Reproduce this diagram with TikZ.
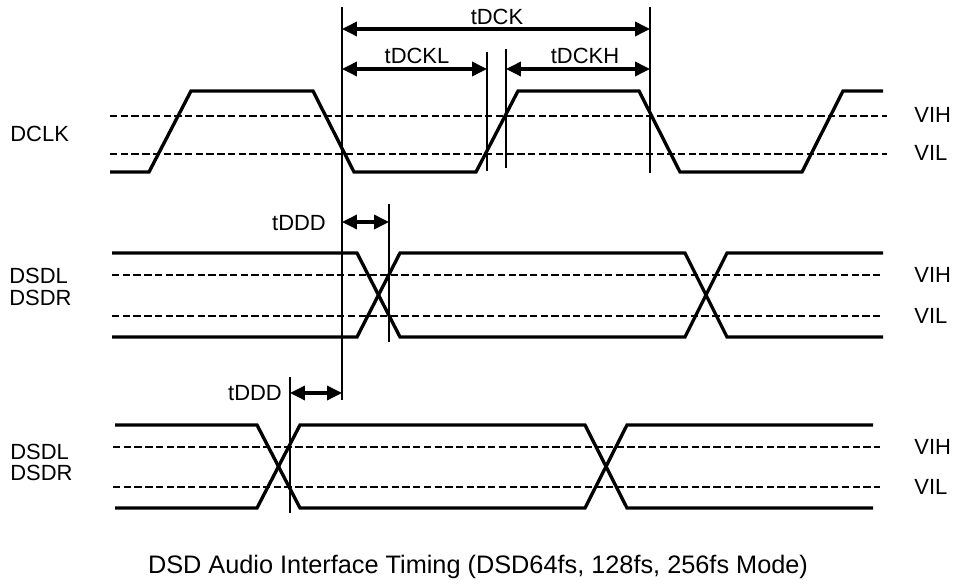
\documentclass[tikz,border=0pt]{standalone}
\usepackage{fontspec}
\setmainfont{Liberation Sans}
\usetikzlibrary{arrows.meta}
\begin{document}
\begin{tikzpicture}[x=0.02cm,y=-0.02cm,
	wave/.style={line width=1.9pt,line join=miter},
	level/.style={line width=1.3pt,dash pattern=on 4.2pt off 1.9pt},
	marker/.style={line width=0.75pt},
	dim/.style={line width=1.8pt,{Triangle[length=8.5pt,width=8pt]}-{Triangle[length=8.5pt,width=8pt]}},
	lbl/.style={font=\fontsize{12.5}{14}\selectfont,inner sep=0pt}]
	\useasboundingbox (0,0) rectangle (957,587);

	% DCLK
	\draw[level] (110,116) -- (887,116);
	\draw[level] (110,154) -- (887,154);
	\draw[wave] (110,172) -- (149,172) -- (191,91) -- (313,91) -- (354,172) -- (476,172)
		-- (518,91) -- (639,91) -- (680,172) -- (802,172) -- (843,91) -- (883,91);
	\node[lbl,anchor=west] (dclk) at (10,134) {DCLK};
	\node[lbl,anchor=west] (vih1) at (914,115) {VIH};
	\node[lbl,anchor=west] (vil1) at (914,153) {VIL};

	% DSDL/DSDR, erste Zeile
	\draw[level] (112,275) -- (880,275);
	\draw[level] (112,316) -- (880,316);
	\draw[wave] (112,253) -- (357,253) -- (400,337) -- (685,337) -- (727,253) -- (883,253);
	\draw[wave] (112,337) -- (357,337) -- (400,253) -- (685,253) -- (727,337) -- (883,337);
	\node[lbl,anchor=west] (dsdla) at (9,276) {DSDL};
	\node[lbl,anchor=west] (dsdra) at (9,297.5) {DSDR};
	\node[lbl,anchor=west] (vih2) at (914,275) {VIH};
	\node[lbl,anchor=west] (vil2) at (914,316) {VIL};

	% DSDL/DSDR, zweite Zeile
	\draw[level] (113,447) -- (880,447);
	\draw[level] (113,487) -- (880,487);
	\draw[wave] (115,425) -- (257,425) -- (300,508) -- (585,508) -- (627,425) -- (873,425);
	\draw[wave] (115,508) -- (257,508) -- (300,425) -- (585,425) -- (627,508) -- (873,508);
	\node[lbl,anchor=west] (dsdlb) at (10,451.5) {DSDL};
	\node[lbl,anchor=west] (dsdrb) at (10,473) {DSDR};
	\node[lbl,anchor=west] (vih3) at (914,447) {VIH};
	\node[lbl,anchor=west] (vil3) at (914,487) {VIL};

	% Hilfslinien
	\draw[marker] (342,7) -- (342,400);
	\draw[marker] (487,52) -- (487,171);
	\draw[marker] (506,49) -- (506,168);
	\draw[marker] (650,7) -- (650,173);
	\draw[marker] (389,204) -- (389,342);
	\draw[marker] (290,377) -- (290,513);

	% Zeitpfeile
	\coordinate (dckA) at (342,29);
	\coordinate (dckB) at (650,29);
	\coordinate (dcklA) at (342,69);
	\coordinate (dcklB) at (487,69);
	\coordinate (dckhA) at (506,69);
	\coordinate (dckhB) at (650,69);
	\coordinate (dddA) at (342,222);
	\coordinate (dddB) at (389,222);
	\coordinate (dddC) at (290,393);
	\coordinate (dddD) at (342,393);
	\draw[dim] (dckA) -- (dckB);
	\draw[dim] (dcklA) -- (dcklB);
	\draw[dim] (dckhA) -- (dckhB);
	\draw[dim] (dddA) -- (dddB);
	\draw[dim] (dddC) -- (dddD);
	\node[lbl] (tdck) at (497,17) {tDCK};
	\node[lbl] (tdckl) at (417,56) {tDCKL};
	\node[lbl] (tdckh) at (585,56) {tDCKH};
	\node[lbl] (tddda) at (299,223) {tDDD};
	\node[lbl] (tdddb) at (255,393) {tDDD};

	% Bildunterschrift
	\node[font=\fontsize{14.4}{17}\selectfont,inner sep=0pt,anchor=base] (caption) at (478,573)
		{DSD Audio Interface Timing (DSD64fs, 128fs, 256fs Mode)};
\end{tikzpicture}
\end{document}
